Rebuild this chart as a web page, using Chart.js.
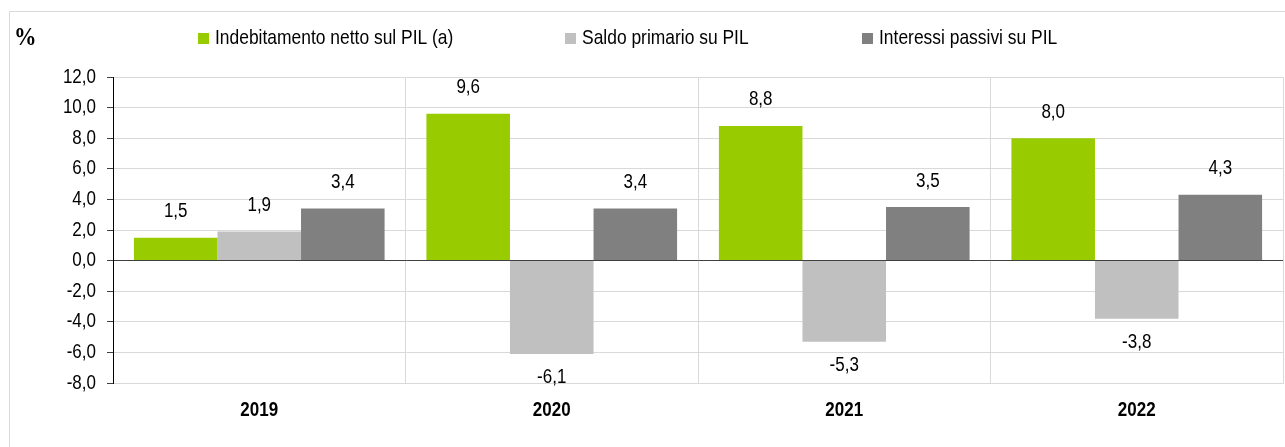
<!DOCTYPE html>
<html>
<head>
<meta charset="utf-8">
<script src="https://cdn.jsdelivr.net/npm/chart.js@4.4.1/dist/chart.umd.min.js"></script>
<style>
    html, body { margin: 0; padding: 0; background: #fff; }
    #wrap { width: 1285px; height: 447px; position: relative; }
</style>
</head>
<body>
<div id="wrap"><canvas id="chart" width="1285" height="447"></canvas></div>
<script>
// 数据
const years = ['2019', '2020', '2021', '2022'];
const indebitamento = [1.5, 9.6, 8.8, 8.0];
const saldoPrimario = [1.9, -6.1, -5.3, -3.8];
const interessi = [3.4, 3.4, 3.5, 4.3];
const seriesNames = ['Indebitamento netto sul PIL (a)', 'Saldo primario su PIL', 'Interessi passivi su PIL'];
const seriesColors = ['#99CC00', '#C0C0C0', '#808080'];

const FONT = '"Liberation Sans", Arial, sans-serif';

// 数字格式: 1,5
function fmt(v) {
    return v.toFixed(1).replace('.', ',');
}

// 窄体文字 (水平压缩)
function drawNarrow(ctx, text, x, y, align, squeeze) {
    ctx.save();
    ctx.translate(x, y);
    ctx.scale(squeeze, 1);
    ctx.textAlign = align;
    ctx.fillText(text, 0, 0);
    ctx.restore();
}

// 边框、图例、% 标记和轴标签
const framePlugin = {
    id: 'frame',
    beforeDraw(chart) {
        const ctx = chart.ctx;
        ctx.save();
        ctx.strokeStyle = '#d9d9d9';
        ctx.lineWidth = 1;
        ctx.beginPath();
        ctx.moveTo(9.5, 447);
        ctx.lineTo(9.5, 11.5);
        ctx.lineTo(1285, 11.5);
        ctx.stroke();
        ctx.restore();
    },
    afterDraw(chart) {
        const ctx = chart.ctx;
        ctx.save();
        ctx.fillStyle = '#000';
        ctx.textBaseline = 'middle';
        ctx.font = 'bold 25px "Liberation Serif", "Times New Roman", serif';
        drawNarrow(ctx, '%', 14, 39, 'left', 0.9);

        // 图例
        const legendX = [198, 565, 862];
        ctx.font = '21px ' + FONT;
        chart.data.datasets.forEach((ds, i) => {
            ctx.fillStyle = ds.backgroundColor;
            ctx.fillRect(legendX[i], 33, 11, 11);
            ctx.fillStyle = '#000';
            drawNarrow(ctx, ds.label, legendX[i] + 17, 38.5, 'left', 0.83);
        });

        // y 轴标签
        const yScale = chart.scales.y;
        ctx.fillStyle = '#000';
        ctx.font = '20px ' + FONT;
        yScale.ticks.forEach(t => {
            drawNarrow(ctx, fmt(t.value), 96, yScale.getPixelForValue(t.value), 'right', 0.85);
        });

        // x 轴标签
        const xScale = chart.scales.x;
        ctx.font = 'bold 20px ' + FONT;
        years.forEach((y, i) => {
            drawNarrow(ctx, y, xScale.getPixelForValue(i), 410, 'center', 0.85);
        });
        ctx.restore();
    }
};

// 数据标签
const labelPlugin = {
    id: 'barLabels',
    afterDatasetsDraw(chart) {
        const ctx = chart.ctx;
        ctx.save();
        ctx.font = '20px ' + FONT;
        ctx.fillStyle = '#000';
        ctx.textBaseline = 'middle';
        chart.data.datasets.forEach((ds, i) => {
            const meta = chart.getDatasetMeta(i);
            meta.data.forEach((bar, j) => {
                const v = ds.data[j];
                const y = v >= 0 ? bar.y - 26 : bar.y + 24;
                drawNarrow(ctx, fmt(v), bar.x, y, 'center', 0.85);
            });
        });
        ctx.restore();
    }
};

const ctx = document.getElementById('chart').getContext('2d');
new Chart(ctx, {
    type: 'bar',
    data: {
        labels: years,
        datasets: [indebitamento, saldoPrimario, interessi].map((d, i) => ({
            label: seriesNames[i],
            data: d,
            backgroundColor: seriesColors[i],
            borderWidth: 0,
            categoryPercentage: 0.857,
            barPercentage: 1.0
        }))
    },
    options: {
        responsive: false,
        animation: false,
        devicePixelRatio: 1,
        layout: {
            padding: { left: 0, right: 2, top: 77, bottom: 0 }
        },
        plugins: {
            legend: { display: false },
            tooltip: { enabled: false }
        },
        scales: {
            x: {
                grid: {
                    offset: true,
                    drawTicks: false,
                    color: '#d9d9d9'
                },
                border: { color: '#d9d9d9' },
                ticks: {
                    color: 'rgba(0,0,0,0)',
                    padding: 14,
                    font: { family: FONT, size: 20, weight: 'bold' }
                },
                afterFit(scale) { scale.height = 64; }
            },
            y: {
                min: -8,
                max: 12,
                ticks: {
                    stepSize: 2,
                    color: 'rgba(0,0,0,0)',
                    padding: 12,
                    font: { family: FONT, size: 20 },
                    callback: v => fmt(v)
                },
                grid: {
                    color: c => (c.tick && c.tick.value === 0) ? '#404040' : '#d9d9d9',
                    tickColor: '#404040',
                    tickLength: 6
                },
                border: { color: '#000', width: 1 },
                afterFit(scale) { scale.width = 113; }
            }
        }
    },
    plugins: [framePlugin, labelPlugin]
});
</script>
</body>
</html>
